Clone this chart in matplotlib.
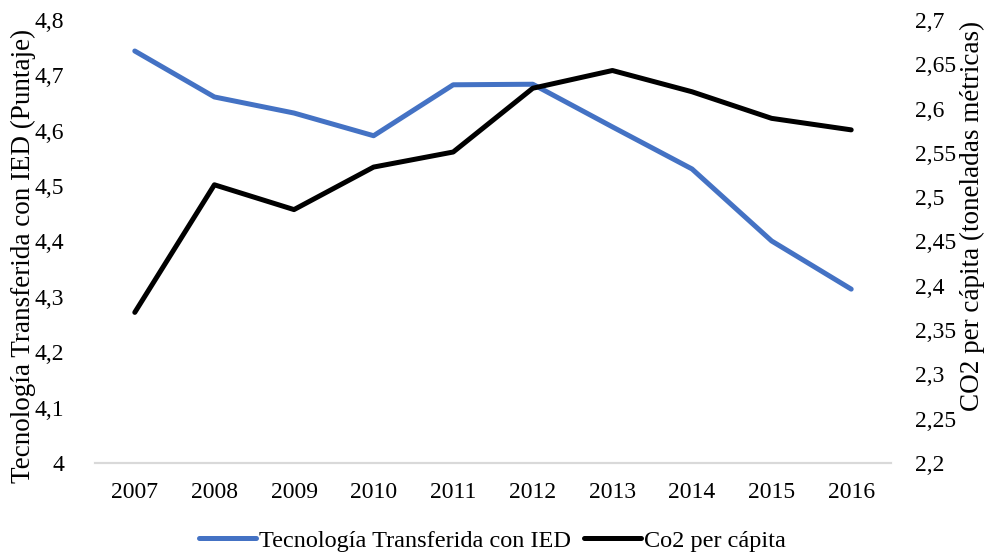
import matplotlib.pyplot as plt
import numpy as np

plt.rcParams['font.family'] = ['Liberation Serif', 'DejaVu Serif']

years = ["2007", "2008", "2009", "2010", "2011", "2012", "2013", "2014", "2015", "2016"]
tecnologia = [4.744, 4.661, 4.632, 4.591, 4.683, 4.684, 4.607, 4.531, 4.401, 4.314]
co2 = [2.370, 2.514, 2.486, 2.534, 2.551, 2.623, 2.643, 2.619, 2.589, 2.576]

left_ticks = [4.0, 4.1, 4.2, 4.3, 4.4, 4.5, 4.6, 4.7, 4.8]
right_ticks = [2.2, 2.25, 2.3, 2.35, 2.4, 2.45, 2.5, 2.55, 2.6, 2.65, 2.7]


def fmt(v):
    s = ("%.2f" % v).rstrip("0").rstrip(".")
    return s.replace(".", ",")


W, H = 985, 554
fig = plt.figure(figsize=(W / 100, H / 100), dpi=100)
ax = fig.add_axes([95 / W, 91 / H, 796 / W, 443 / H])
ax2 = ax.twinx()

x = np.arange(len(years))
l1, = ax.plot(x, tecnologia, color="#4472C4", lw=3.6, solid_capstyle="round",
              label="Tecnología Transferida con IED")
l2, = ax2.plot(x, co2, color="black", lw=3.6, solid_capstyle="round",
               label="Co2 per cápita")

ax.set_xlim(-0.5, len(years) - 0.5)
ax.set_ylim(4.0, 4.8)
ax2.set_ylim(2.2, 2.7)
ax.set_xticks(x, years)
ax.set_yticks(left_ticks, [fmt(v) for v in left_ticks])
ax2.set_yticks(right_ticks, [fmt(v) for v in right_ticks])

for a in (ax, ax2):
    for side in ("top", "left", "right"):
        a.spines[side].set_visible(False)
    a.spines["bottom"].set_color("#d9d9d9")
    a.spines["bottom"].set_linewidth(1.5)
    a.tick_params(length=0, labelsize=17)
ax.tick_params(axis="x", pad=14)
ax.tick_params(axis="y", pad=22)
ax2.tick_params(axis="y", pad=17)

# axis titles placed like the original (not centred on the axes)
fig.text(23 / W, 1 - 256 / H, "Tecnología Transferida con IED (Puntaje)",
         rotation=90, ha="center", va="center", fontsize=19.5)
fig.text(972 / W, 1 - 216 / H, "CO2 per cápita (toneladas métricas)",
         rotation=90, ha="center", va="center", fontsize=19.5)

fig.legend(handles=[l1, l2], loc="lower center", bbox_to_anchor=(0.5, -0.035),
           ncol=2, frameon=False, fontsize=17.5, handlelength=2.35,
           columnspacing=0.5, handletextpad=0.15)

fig.savefig("out.png", dpi=100)
